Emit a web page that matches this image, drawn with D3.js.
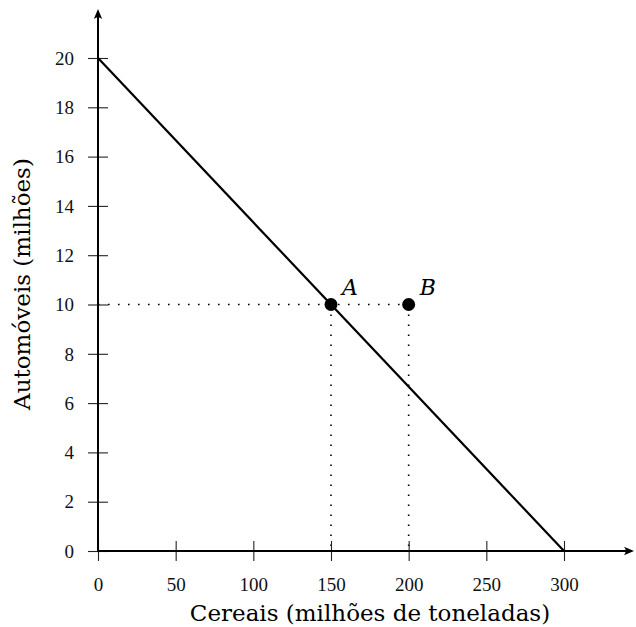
<!DOCTYPE html>
<html>
<head>
<meta charset="utf-8">
<script src="https://cdn.jsdelivr.net/npm/d3@7"></script>
<style>
  html, body { margin: 0; padding: 0; background: #fff; }
  svg { display: block; }
</style>
</head>
<body>
<svg id="chart" width="636" height="627"></svg>
<script>
// ---- data ----
const xTicks = [0, 50, 100, 150, 200, 250, 300];
const yTicks = [0, 2, 4, 6, 8, 10, 12, 14, 16, 18, 20];
const frontierX = [0, 300];          // Cereais
const frontierY = [20, 0];           // Automóveis
const pointNames = ["A", "B"];
const pointX = [150, 200];
const pointY = [10, 10];
const xTitle = "Cereais (milhões de toneladas)";
const yTitle = "Automóveis (milhões)";

// ---- layout ----
const svg = d3.select("#chart");
const x = d3.scaleLinear().domain([0, 300]).range([98, 564]);
const y = d3.scaleLinear().domain([0, 20]).range([551, 58]);
const xAxisEnd = 634, yAxisEnd = 9;
const tickFont = "'Liberation Serif', serif";
const labelFont = "'DejaVu Serif', serif";

// dotted guide lines
const guides = svg.append("g").attr("stroke", "#000").attr("stroke-width", 1.6)
  .attr("stroke-dasharray", "1.6,8.4").attr("fill", "none");
const bIdx = 1;
guides.append("line")
  .attr("x1", x(0)).attr("y1", y(pointY[bIdx]))
  .attr("x2", x(pointX[bIdx])).attr("y2", y(pointY[bIdx]));
pointX.forEach((px, i) => {
  guides.append("line")
    .attr("x1", x(px)).attr("y1", y(pointY[i]))
    .attr("x2", x(px)).attr("y2", y(0));
});

// x axis
const xAxis = svg.append("g").attr("transform", `translate(0,${y(0)})`)
  .call(d3.axisBottom(x).tickValues(xTicks).tickSize(0).tickFormat(d3.format("d")));
xAxis.select(".domain").remove();
xAxis.selectAll(".tick line").attr("y1", -10).attr("y2", 10).attr("stroke", "#222").attr("stroke-width", 1.1);
xAxis.selectAll(".tick text").attr("y", 40).attr("dy", 0)
  .style("font-family", tickFont).style("font-size", "19px").attr("fill", "#111");

// y axis
const yAxis = svg.append("g").attr("transform", `translate(${x(0)},0)`)
  .call(d3.axisLeft(y).tickValues(yTicks).tickSize(0).tickFormat(d3.format("d")));
yAxis.select(".domain").remove();
yAxis.selectAll(".tick line").attr("x1", -10).attr("x2", 10).attr("stroke", "#222").attr("stroke-width", 1.1);
yAxis.selectAll(".tick text").attr("x", -24).attr("dy", "0.33em")
  .style("font-family", tickFont).style("font-size", "19px").attr("fill", "#111");

// axis lines with arrows
svg.append("line").attr("x1", x(0) - 1).attr("y1", y(0)).attr("x2", xAxisEnd - 3).attr("y2", y(0))
  .attr("stroke", "#000").attr("stroke-width", 2);
svg.append("line").attr("x1", x(0)).attr("y1", y(0) + 1).attr("x2", x(0)).attr("y2", yAxisEnd + 3)
  .attr("stroke", "#000").attr("stroke-width", 2);
function arrow(tx, ty, angle) {
  svg.append("path")
    .attr("d", "M0,0 L-10,-4.2 Q-6.5,0 -10,4.2 Z")
    .attr("transform", `translate(${tx},${ty}) rotate(${angle})`)
    .attr("fill", "#000");
}
arrow(xAxisEnd, y(0), 0);
arrow(x(0), yAxisEnd, -90);

// frontier line
const line = d3.line().x(d => x(d[0])).y(d => y(d[1]));
svg.append("path").datum(d3.zip(frontierX, frontierY))
  .attr("d", line).attr("fill", "none").attr("stroke", "#000").attr("stroke-width", 2.2);

// points
svg.selectAll("circle.pt").data(d3.range(pointNames.length)).join("circle")
  .attr("class", "pt").attr("cx", i => x(pointX[i])).attr("cy", i => y(pointY[i]))
  .attr("r", 6.5).attr("fill", "#000");
svg.selectAll("text.pt").data(d3.range(pointNames.length)).join("text")
  .attr("class", "pt").attr("x", i => x(pointX[i]) + 11).attr("y", i => y(pointY[i]) - 10)
  .text(i => pointNames[i])
  .style("font-family", labelFont).style("font-style", "italic").style("font-size", "22px");

// axis titles
svg.append("text").attr("x", 370).attr("y", 621).attr("text-anchor", "middle")
  .style("font-family", labelFont).style("font-size", "23px").text(xTitle);
svg.append("text").attr("transform", "translate(30,284) rotate(-90)").attr("text-anchor", "middle")
  .style("font-family", labelFont).style("font-size", "23px").text(yTitle);
</script>
</body>
</html>
